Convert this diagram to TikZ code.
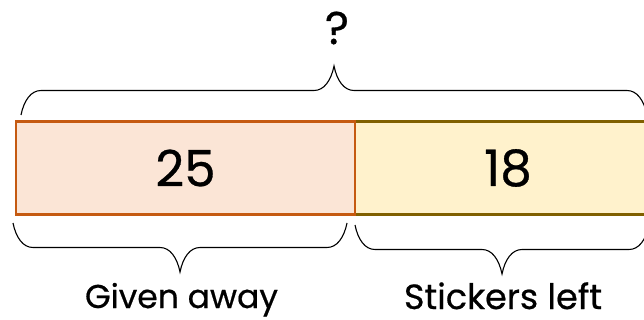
\documentclass[tikz,border=0pt]{standalone}
\usepackage{fontspec}
\setmainfont{Poppins}[FakeBold=0.6]
\usetikzlibrary{decorations.pathreplacing}

\definecolor{givenfill}{HTML}{FBE5D6}
\definecolor{givenline}{HTML}{C55A11}
\definecolor{keptfill}{HTML}{FFF2CC}
\definecolor{keptline}{HTML}{806000}

\begin{document}
\begin{tikzpicture}[x=1pt,y=-1pt]
        \tikzstyle{every node}=[font=\fontsize{33}{40}\selectfont]
        \tikzstyle{bar}=[draw, line width=2.4pt, minimum height=93pt, inner sep=0pt, outer sep=0pt, font=\fontsize{50}{60}\selectfont]
        \tikzstyle{givenbar}=[bar, fill=givenfill, draw=givenline, minimum width=339pt]
        \tikzstyle{keptbar}=[bar, fill=keptfill, draw=keptline, minimum width=306pt]
        \tikzstyle{curly}=[line width=1.1pt, decorate, decoration={brace, amplitude=20pt, transform={yscale=2.45}}]
        \useasboundingbox (0,0) rectangle (644,320);

        \node[keptbar] (kept) at (508,168) {18};
        \node[givenbar, anchor=east] (given) at (kept.west) {25};

        % brace over the whole bar
        \coordinate (whole-l) at (21,115);
        \coordinate (whole-r) at (647,115);
        \draw[curly] (whole-l) -- (whole-r);
        \node[font=\fontsize{46}{50}\selectfont] (total) at (337,28) {?};

        % braces under the parts
        \coordinate (given-l) at (13,223);
        \coordinate (given-r) at (347,223);
        \coordinate (kept-l) at (355,225);
        \coordinate (kept-r) at (649,225);
        \draw[curly] (given-r) -- (given-l);
        \draw[curly] (kept-r) -- (kept-l);

        \node[anchor=base] (givenaway) at (181.5,308) {Given away};
        \node[anchor=base, font=\fontsize{35}{40}\selectfont] (stickersleft) at (503,309) {Stickers left};
    \end{tikzpicture}
\end{document}
